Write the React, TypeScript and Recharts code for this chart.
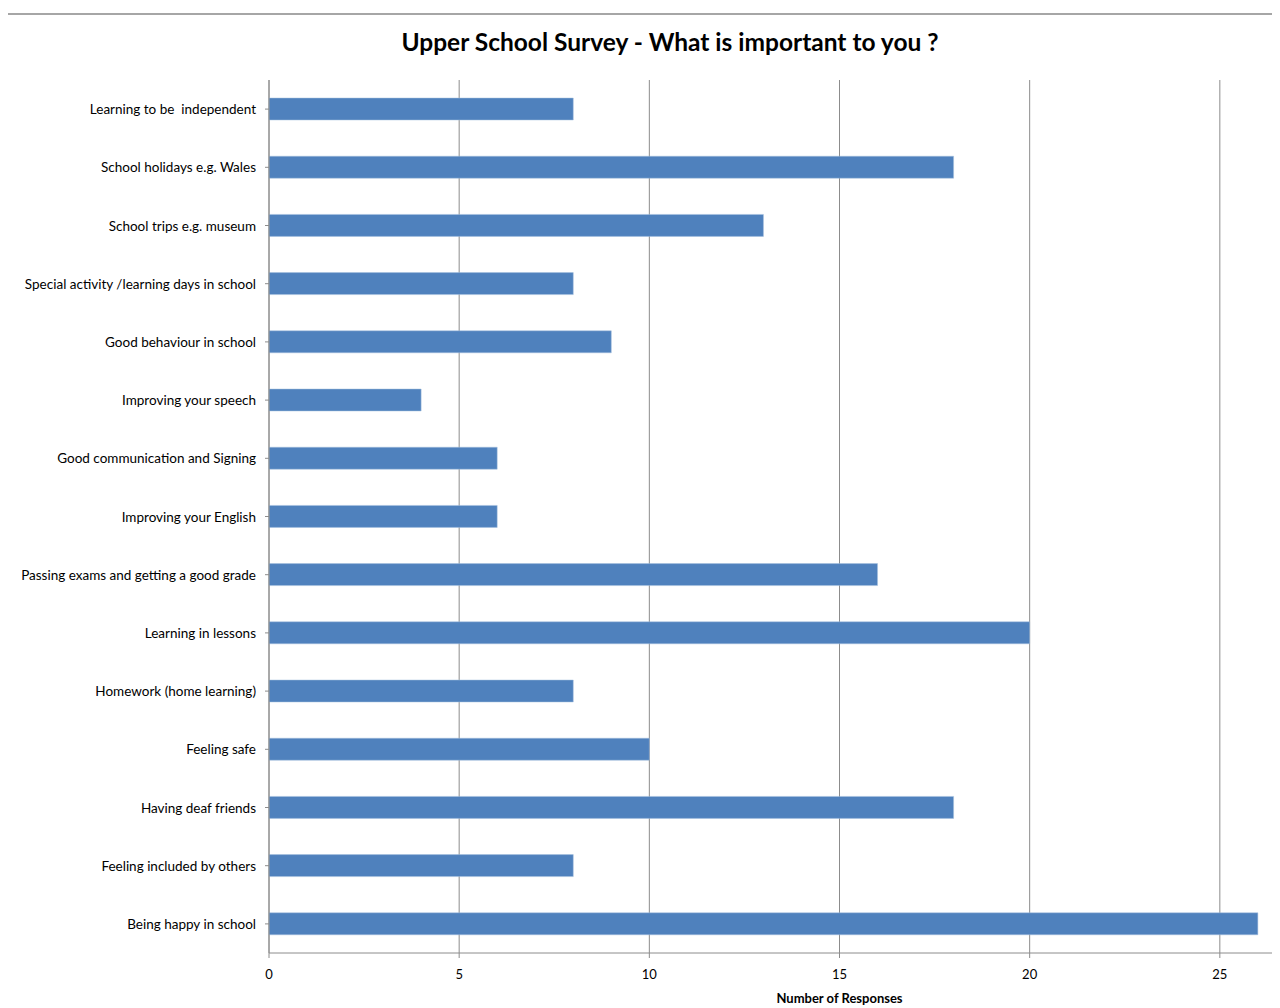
import React from 'react';
import { BarChart, Bar, XAxis, YAxis, CartesianGrid } from 'recharts';

const categories = [
  'Learning to be  independent',
  'School holidays e.g. Wales',
  'School trips e.g. museum',
  'Special activity /learning days in school',
  'Good behaviour in school',
  'Improving your speech',
  'Good communication and Signing',
  'Improving your English',
  'Passing exams and getting a good grade',
  'Learning in lessons',
  'Homework (home learning)',
  'Feeling safe',
  'Having deaf friends',
  'Feeling included by others',
  'Being happy in school',
];
const responses = [8, 18, 13, 8, 9, 4, 6, 6, 16, 20, 8, 10, 18, 8, 26];
const xTicks = [0, 5, 10, 15, 20, 25];

const data = categories.map((name, i) => ({ name, value: responses[i] }));

const FONT = 'Lato, "Open Sans", sans-serif';

const CategoryTick = (props: any) => {
  const { x, y, payload } = props;
  return (
    <text
      x={x}
      y={y}
      textAnchor="end"
      dominantBaseline="central"
      fontSize={13.5}
      fontFamily={FONT}
      fill="#000"
      style={{ whiteSpace: 'pre' }}
    >
      {payload.value}
    </text>
  );
};

export default function App() {
  return (
    <div style={{ position: 'relative', width: 1272, height: 1000, overflow: 'hidden', fontFamily: FONT }}>
      <div style={{ position: 'absolute', left: 0, top: 5, width: 1272, height: 2, background: '#a6a6a6' }} />
      <div
        style={{
          position: 'absolute',
          left: 0,
          width: 1324,
          top: 19,
          textAlign: 'center',
          fontSize: 24.5,
          fontWeight: 700,
          color: '#000',
          fontFamily: FONT,
        }}
      >
        Upper School Survey - What is important to you ?
      </div>
      <BarChart
        width={1402}
        height={1000}
        data={data}
        layout="vertical"
        margin={{ top: 72, right: 0, bottom: 17, left: 6 }}
        barCategoryGap={18}
      >
        <CartesianGrid horizontal={false} vertical stroke="#8c8c8c" strokeWidth={1} />
        <XAxis
          type="number"
          domain={[0, 30]}
          ticks={xTicks}
          interval={0}
          stroke="#8c8c8c"
          tickSize={5}
          tickMargin={12}
          tick={{ fill: '#000', fontSize: 13, fontFamily: FONT }}
          height={38}
          label={{
            value: 'Number of Responses',
            position: 'insideBottom',
            offset: -12,
            fill: '#000',
            fontSize: 13,
            fontWeight: 700,
            fontFamily: FONT,
          }}
        />
        <YAxis
          type="category"
          dataKey="name"
          width={255}
          interval={0}
          stroke="#8c8c8c"
          tickSize={4}
          tickMargin={9}
          tick={<CategoryTick />}
        />
        <Bar dataKey="value" fill="#4f81bd" stroke="#a7c0de" strokeWidth={0.5} barSize={22} isAnimationActive={false} />
      </BarChart>
    </div>
  );
}
